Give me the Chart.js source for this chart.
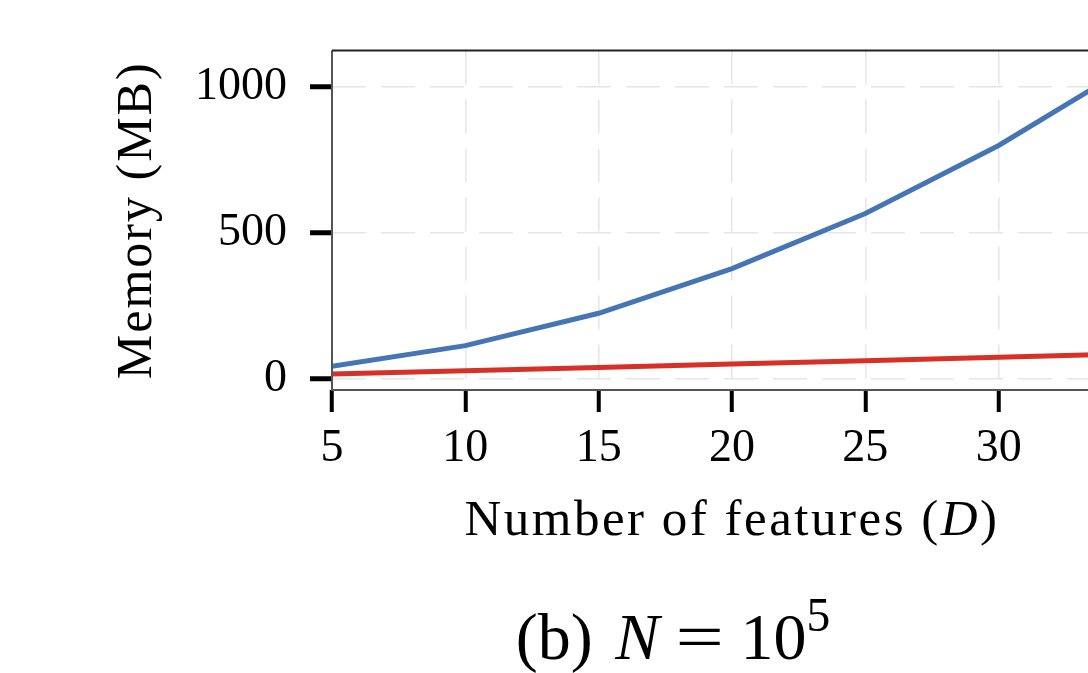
<!DOCTYPE html>
<html>
<head>
<meta charset="utf-8">
<script src="https://cdn.jsdelivr.net/npm/chart.js@4"></script>
<style>
  html, body { margin: 0; padding: 0; background: #fff; overflow: hidden; }
  #wrap { position: relative; width: 1346px; height: 673px; }
  #caption {
    position: absolute; left: 0; width: 1346px; top: 604px;
    text-align: center; font-family: "Liberation Serif", serif; font-size: 66px;
    line-height: 1; color: #000; white-space: nowrap;
  }
  #caption i { font-style: italic; margin-left: 6px; }
  #caption .eq { margin: 0 22px; display: inline-block; transform: scaleX(1.3); }
  #caption sup { font-size: 0.72em; line-height: 0; vertical-align: 0.6em; }
</style>
</head>
<body>
<div id="wrap">
  <canvas id="grafico" width="1346" height="673"></canvas>
  <div id="caption">(b) <i>N</i><span class="eq">=</span>10<sup>5</sup></div>
</div>
<script>
const features = [5, 10, 15, 20, 25, 30, 35];
const memoriaAzul = [42, 113, 224, 377, 566, 799, 1075];
const memoriaVermelha = [16, 27, 38, 50, 61, 73, 85];
const ticksX = [5, 10, 15, 20, 25, 30, 35];
const ticksY = [0, 500, 1000];

const fonte = "Liberation Serif";

// spines + axis titles (the x title has an italic D)
const textos = {
    id: 'textos',
    afterDraw(chart) {
        const { ctx, chartArea: a } = chart;
        ctx.save();
        ctx.lineWidth = 2;
        ctx.strokeStyle = '#555';
        ctx.beginPath();
        ctx.moveTo(a.left, a.top);
        ctx.lineTo(a.left, a.bottom);
        ctx.lineTo(a.right, a.bottom);
        ctx.lineTo(a.right, a.top);
        ctx.stroke();
        ctx.strokeStyle = '#222';
        ctx.beginPath();
        ctx.moveTo(a.left, a.top);
        ctx.lineTo(a.right, a.top);
        ctx.stroke();

        ctx.fillStyle = '#000';
        ctx.textBaseline = 'alphabetic';
        ctx.letterSpacing = '2.5px';
        const partes = [
            ["Number of features (", "normal"],
            ["D", "italic"],
            [")", "normal"]
        ];
        let total = 0;
        const larguras = partes.map(([t, s]) => {
            ctx.font = s + " 51px '" + fonte + "'";
            const w = ctx.measureText(t).width;
            total += w;
            return w;
        });
        let x = (a.left + a.right) / 2 - total / 2;
        partes.forEach(([t, s], i) => {
            ctx.font = s + " 51px '" + fonte + "'";
            ctx.textAlign = 'left';
            ctx.fillText(t, x, a.bottom + 145);
            x += larguras[i];
        });

        ctx.letterSpacing = '2px';
        ctx.translate(a.left - 181, (a.top + a.bottom) / 2);
        ctx.rotate(-Math.PI / 2);
        ctx.font = "normal 50px '" + fonte + "'";
        ctx.textAlign = 'center';
        ctx.fillText("Memory (MB)", 0, 0);
        ctx.restore();
    }
};

const ctx = document.getElementById("grafico").getContext("2d");
Chart.defaults.color = '#000';
Chart.defaults.font.family = fonte;

const grafico = new Chart(ctx, {
    type: 'line',
    data: {
        datasets: [{
            label: 'azul',
            data: features.map((f, i) => ({ x: f, y: memoriaAzul[i] })),
            borderColor: '#4575b4',
            borderWidth: 5,
            pointRadius: 0,
            tension: 0
        }, {
            label: 'vermelho',
            data: features.map((f, i) => ({ x: f, y: memoriaVermelha[i] })),
            borderColor: '#d73027',
            borderWidth: 5,
            pointRadius: 0,
            tension: 0
        }]
    },
    options: {
        responsive: false,
        animation: false,
        events: [],
        layout: { padding: { top: 50, right: 214, left: 0, bottom: 0 } },
        plugins: { legend: { display: false }, tooltip: { enabled: false } },
        scales: {
            x: {
                type: 'linear',
                min: 5,
                max: 35,
                afterBuildTicks: (s) => { s.ticks = ticksX.map(v => ({ value: v })); },
                afterFit: (s) => { s.height = 283; },
                ticks: { font: { size: 46 }, padding: 9, maxRotation: 0, callback: (v) => String(v) },
                grid: { color: '#e6e6e6', lineWidth: 1.5, tickLength: 22, tickWidth: 4, tickColor: '#000' },
                border: { display: false, dash: [34, 15] }
            },
            y: {
                min: -39,
                max: 1124,
                afterBuildTicks: (s) => { s.ticks = ticksY.map(v => ({ value: v })); },
                afterFit: (s) => { s.width = 332; },
                ticks: { font: { size: 46 }, padding: 23, callback: (v) => String(v) },
                grid: { color: '#e6e6e6', lineWidth: 1.5, tickLength: 22, tickWidth: 5, tickColor: '#000' },
                border: { display: false, dash: [34, 15] }
            }
        }
    },
    plugins: [textos]
});
</script>
</body>
</html>
